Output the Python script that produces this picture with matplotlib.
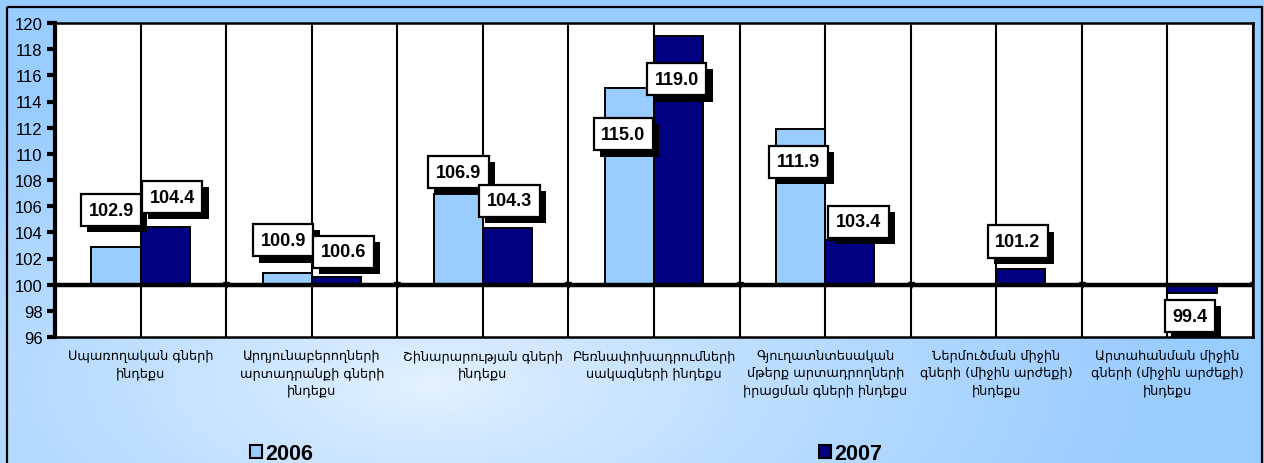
import numpy as np
import matplotlib.pyplot as plt
from matplotlib import patheffects
from matplotlib.patches import Rectangle, Patch

plt.rcParams["font.family"] = ["Liberation Sans", "DejaVu Sans"]

categories = [
    "Սպառողական գների\nինդեքս",
    "Արդյունաբերողների\nարտադրանքի գների\nինդեքս",
    "Շինարարության գների\nինդեքս",
    "Բեռնափոխադրումների\nսակագների ինդեքս",
    "Գյուղատնտեսական\nմթերք արտադրողների\nիրացման գների ինդեքս",
    "Ներմուծման միջին\nգների (միջին արժեքի)\nինդեքս",
    "Արտահանման միջին\nգների (միջին արժեքի)\nինդեքս",
]
values_2006 = [102.9, 100.9, 106.9, 115.0, 111.9, np.nan, np.nan]
values_2007 = [104.4, 100.6, 104.3, 119.0, 103.4, 101.2, 99.4]
series_names = ["2006", "2007"]
y_ticks = list(range(96, 121, 2))

# label placement (shift in data units / pixels) - the labels were hand placed
lab_dy_2006 = [2.8, 2.5, 1.7, -3.5, -2.5]
lab_dx_2006 = [-5, -4, 0, -6, -2]
lab_dy_2007 = [2.3, 1.9, 2.1, -3.3, 1.4, 2.1, -1.8]
lab_dx_2007 = [7, 7, 2, -2, 9, -3, -2]

light = "#99CCFF"
dark = "#000080"
W, H = 1264, 464

fig = plt.figure(figsize=(W / 100, H / 100), dpi=100)

# background gradient
bg = fig.add_axes([0, 0, 1, 1], zorder=-10)
yy, xx = np.mgrid[0:H, 0:W]
d = np.sqrt(((xx - 430) / 750.0) ** 2 + ((yy - 385) / 330.0) ** 2)
t = np.clip(d, 0, 1) ** 0.8
c0 = np.array([0.90, 0.95, 1.0])
c1 = np.array([0.60, 0.80, 1.0])
img = c0[None, None, :] * (1 - t[..., None]) + c1[None, None, :] * t[..., None]
bg.imshow(img, extent=[0, W, H, 0], aspect="auto")
bg.set_xlim(0, W)
bg.set_ylim(H, 0)
bg.axis("off")
bg.add_patch(Rectangle((7, 8), 1255, 470, fill=False, ec="black", lw=1.6))

ax = fig.add_axes([55 / W, 1 - 338 / H, (1253 - 55) / W, (338 - 24) / H])
ax.set_facecolor("white")

x = np.arange(len(categories))
bw = 0.287
v06 = np.array(values_2006)
v07 = np.array(values_2007)
ax.bar(x - bw / 2, v06 - 100, bottom=100, width=bw, color=light,
       edgecolor="black", linewidth=1.4, zorder=2)
ax.bar(x + bw / 2, v07 - 100, bottom=100, width=bw, color=dark,
       edgecolor="black", linewidth=1.4, zorder=2)

ax.set_xlim(-0.5, len(categories) - 0.5)
ax.set_ylim(96, 120)

# vertical grid at category centres and boundaries
for gx in np.arange(-0.5, len(categories), 0.5):
    ax.axvline(gx, color="black", lw=1.5, zorder=1)
ax.axhline(100, color="black", lw=3.2, zorder=3)
bounds = np.arange(0.5, len(categories), 1.0)
ax.plot(bounds, [100] * len(bounds), ls="none", marker="v", ms=4,
        color="black", zorder=3)

ax.set_yticks(y_ticks)
ax.tick_params(axis="y", direction="out", length=6, width=3, labelsize=12, pad=3)
ax.set_xticks(x)
ax.set_xticklabels(categories, fontsize=9.3, family=["DejaVu Sans"])
ax.tick_params(axis="x", length=0, pad=9)
for tl in ax.get_xticklabels():
    tl.set_linespacing(1.4)

for side in ["top", "right", "bottom"]:
    ax.spines[side].set_linewidth(1.8)
ax.spines["left"].set_linewidth(3)
for s in ax.spines.values():
    s.set_zorder(4)


def add_label(xc, val, dy, dx):
    a = ax.annotate(f"{val:.1f}", xy=(xc, val + dy), xytext=(dx * 0.72, 0),
                    textcoords="offset points", ha="center", va="center",
                    fontsize=13, fontweight="bold", zorder=6,
                    bbox=dict(boxstyle="square,pad=0.42", fc="white",
                              ec="black", lw=1.6))
    a.get_bbox_patch().set_path_effects([
        patheffects.SimplePatchShadow(offset=(4.5, -4.5), shadow_rgbFace="black", alpha=1),
        patheffects.Normal(),
    ])


for i, v in enumerate(values_2006):
    if not np.isnan(v):
        add_label(x[i] - bw / 2, v, lab_dy_2006[i], lab_dx_2006[i])
for i, v in enumerate(values_2007):
    add_label(x[i] + bw / 2, v, lab_dy_2007[i], lab_dx_2007[i])

# legend sits at the very bottom edge, as in the original
handles = [Patch(facecolor=light, edgecolor="black", lw=1.5),
           Patch(facecolor=dark, edgecolor="black", lw=1.5)]
fig.legend(handles, series_names, ncol=2, loc="upper left",
           bbox_to_anchor=(250 / W, 1 - 444 / H), frameon=False,
           prop=dict(size=15.5, weight="bold"), handlelength=0.55,
           handleheight=0.6, handletextpad=0.15, columnspacing=23.5,
           borderaxespad=0, borderpad=0)

fig.savefig("out.png", dpi=100)
